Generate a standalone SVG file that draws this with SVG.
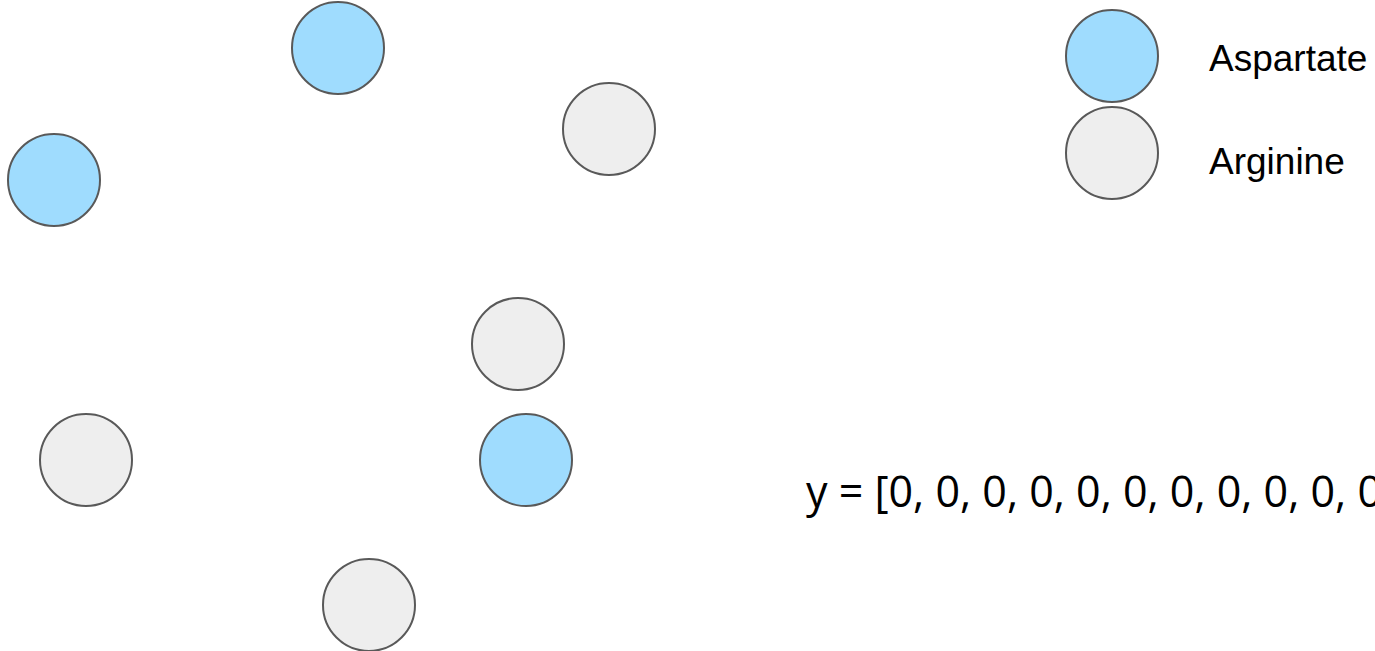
<svg xmlns="http://www.w3.org/2000/svg" width="1375" height="651" viewBox="0 0 1375 651">
<style>
.n{stroke:#595959;stroke-width:2}
.asp{fill:#9fdcfe}
.arg{fill:#eeeeee}
.lbl{font-family:"Liberation Sans",Arial,sans-serif;font-size:37px;fill:#000}
.eq{font-family:"Open Sans","Liberation Sans",sans-serif;font-size:43px;fill:#000}
</style>
<rect width="1375" height="651" fill="#ffffff"/>
<g id="connectors"></g>
<g id="node1"><circle class="n asp" cx="338" cy="48" r="46"/></g>
<g id="node2"><circle class="n arg" cx="609" cy="129" r="46"/></g>
<g id="node3"><circle class="n asp" cx="54" cy="180" r="46"/></g>
<g id="node4"><circle class="n arg" cx="518" cy="344" r="46"/></g>
<g id="node5"><circle class="n arg" cx="86" cy="460" r="46"/></g>
<g id="node6"><circle class="n asp" cx="526" cy="460" r="46"/></g>
<g id="node7"><circle class="n arg" cx="369" cy="605" r="46"/></g>
<g id="legend">
<circle class="n asp" cx="1112" cy="56" r="46"/>
<circle class="n arg" cx="1112" cy="153" r="46"/>
<text class="lbl" x="1209" y="71">Aspartate</text>
<text class="lbl" x="1209" y="174">Arginine</text>
</g>
<text class="eq" x="806" y="507">y = [0, 0, 0, 0, 0, 0, 0, 0, 0, 0, 0</text>
</svg>
